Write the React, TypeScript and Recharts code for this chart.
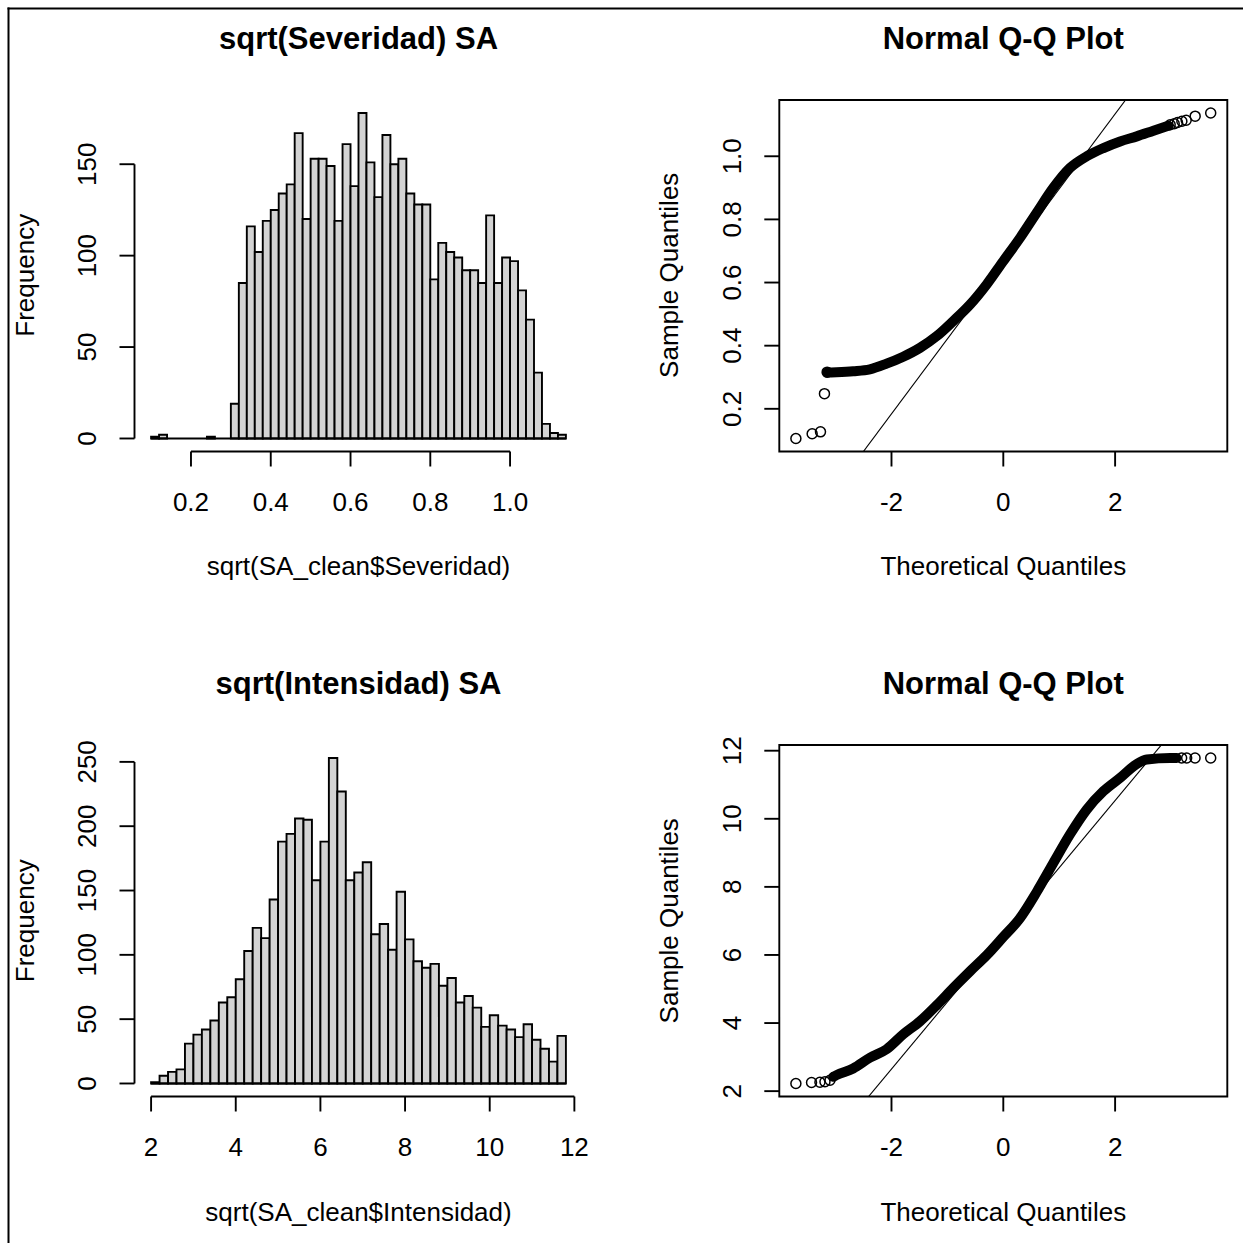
import React from 'react';
import {
  ComposedChart,
  Bar,
  Line,
  Scatter,
  XAxis,
  YAxis,
  ReferenceLine,
  ReferenceArea,
} from 'recharts';

const FONT = '"Liberation Sans", Arial, Helvetica, sans-serif';
const INK = '#000000';
const BAR_FILL = '#d3d3d3';
const LABEL_SIZE = 26;
const TITLE_SIZE = 31;

// ---- sqrt(Severidad): counts of 0.02-wide bins starting at 0.10 ----
const severidadBinStart = 0.1;
const severidadBinWidth = 0.02;
const severidadCounts = [
  1, 2, 0, 0, 0, 0, 0, 1, 0, 0,
  19, 85, 116, 102, 119, 125, 134, 139, 167, 120,
  153, 153, 149, 119, 161, 138, 178, 151, 132, 166,
  150, 153, 134, 128, 128, 87, 107, 102, 99, 92,
  92, 85, 122, 85, 99, 97, 81, 65, 36, 8,
  3, 2,
];
const severidadXTicks = [0.2, 0.4, 0.6, 0.8, 1.0];
const severidadYTicks = [0, 50, 100, 150];

// ---- sqrt(Intensidad): counts of 0.2-wide bins starting at 2.0 ----
const intensidadBinStart = 2;
const intensidadBinWidth = 0.2;
const intensidadCounts = [
  1, 6, 9, 11, 31, 38, 42, 49, 63, 67,
  81, 103, 121, 113, 143, 188, 194, 206, 205, 158,
  188, 253, 227, 158, 164, 172, 116, 124, 104, 149,
  112, 95, 90, 93, 76, 82, 63, 68, 59, 44,
  53, 45, 42, 36, 46, 34, 27, 17, 37,
];
const intensidadXTicks = [2, 4, 6, 8, 10, 12];
const intensidadYTicks = [0, 50, 100, 150, 200, 250];

// ---- Normal Q-Q of sqrt(Severidad) ----
// dense run of sample quantiles (overlapping markers form a solid band)
const sevBandTheo = [
  -3.151, -2.984, -2.685, -2.387, -2.088, -1.79, -1.491, -1.193, -0.895, -0.596, -0.298,
  0, 0.298, 0.597, 0.895, 1.193, 1.492, 1.791, 2.089, 2.388, 2.686, 2.955,
];
const sevBandSample = [
  0.315, 0.316, 0.319, 0.325, 0.343, 0.365, 0.393, 0.43, 0.478, 0.53, 0.594,
  0.668, 0.741, 0.821, 0.9, 0.963, 1.0, 1.026, 1.047, 1.063, 1.081, 1.097,
];
// isolated points in the tails
const sevPointTheo = [-3.71, -3.419, -3.27, -3.199, -3.151, 2.985, 3.057, 3.116, 3.194, 3.271, 3.432, 3.71];
const sevPointSample = [0.106, 0.121, 0.127, 0.248, 0.316, 1.1, 1.103, 1.107, 1.111, 1.114, 1.127, 1.137];
const sevLineIntercept = 0.659;
const sevLineSlope = 0.2375;
const sevQQYTicks = [0.2, 0.4, 0.6, 0.8, 1.0];

// ---- Normal Q-Q of sqrt(Intensidad) ----
const intBandTheo = [
  -3.043, -2.984, -2.685, -2.387, -2.088, -1.79, -1.491, -1.193, -0.895, -0.596, -0.298,
  0, 0.298, 0.597, 0.895, 1.193, 1.492, 1.791, 2.089, 2.388, 2.567, 2.985, 3.1,
];
const intBandSample = [
  2.42, 2.47, 2.665, 2.98, 3.23, 3.67, 4.05, 4.52, 5.03, 5.52, 5.99,
  6.53, 7.08, 7.85, 8.7, 9.54, 10.27, 10.81, 11.2, 11.61, 11.74, 11.785, 11.785,
];
const intPointTheo = [-3.71, -3.43, -3.28, -3.19, -3.1, 3.19, 3.28, 3.43, 3.71];
const intPointSample = [2.225, 2.255, 2.26, 2.275, 2.32, 11.785, 11.785, 11.785, 11.785];
const intLineIntercept = 6.593;
const intLineSlope = 1.972;
const intQQYTicks = [2, 4, 6, 8, 10, 12];

const qqXTicks = [-2, 0, 2];

// ---- page layout (2 x 2 panels) ----
const PAGE = 1243;
const PLOT_W = 448;
const PLOT_H = 351.5;
const X_AXIS_H = 169;
const TOP_MARGIN = 40;
const CHART_W = 610;
const ROW_PLOT_TOP = [99.5, 745];
const COL_PLOT_LEFT = [134.5, 779.3];
const COL_CHART_LEFT = [10, 630];

const TICK_SIZE = 15;
const LINE_W = 1.9;
const TICK_LINE = { stroke: INK, strokeWidth: LINE_W };

// R-style axis range: data range widened by 4% on each side
const widen = (lo: number, hi: number): [number, number] => {
  const pad = (hi - lo) * 0.04;
  return [lo - pad, hi + pad];
};

const fmtOne = (v: number) => v.toFixed(1);
const fmtInt = (v: number) => String(v);

const XTick = (props: any) => {
  const { x, y, payload, fmt } = props;
  return (
    <text x={x} y={y + 44} textAnchor="middle" fontFamily={FONT} fontSize={LABEL_SIZE} fill={INK}>
      {fmt(payload.value)}
    </text>
  );
};

const YTick = (props: any) => {
  const { x, y, payload, fmt } = props;
  const bx = x - 23;
  return (
    <text
      x={bx}
      y={y}
      transform={`rotate(-90 ${bx} ${y})`}
      textAnchor="middle"
      fontFamily={FONT}
      fontSize={LABEL_SIZE}
      fill={INK}
    >
      {fmt(payload.value)}
    </text>
  );
};

const OpenCircle = (props: any) => {
  const { cx, cy } = props;
  if (cx == null || cy == null) return null;
  return <circle cx={cx} cy={cy} r={5} fill="none" stroke={INK} strokeWidth={1.5} />;
};

type Frame = { col: number; row: number };

function frameOf({ col, row }: Frame) {
  const chartLeft = COL_CHART_LEFT[col];
  const plotLeft = COL_PLOT_LEFT[col];
  const yAxisW = plotLeft - chartLeft;
  const rightMargin = CHART_W - yAxisW - PLOT_W;
  const chartTop = ROW_PLOT_TOP[row] - TOP_MARGIN;
  const chartH = TOP_MARGIN + PLOT_H + X_AXIS_H;
  return { chartLeft, chartTop, chartH, yAxisW, rightMargin };
}

type HistProps = Frame & {
  counts: number[];
  binStart: number;
  binWidth: number;
  xTicks: number[];
  yTicks: number[];
  xFmt: (v: number) => string;
};

function Histogram(p: HistProps) {
  const f = frameOf(p);
  const bins = p.counts.map((count, i) => ({
    mid: p.binStart + (i + 0.5) * p.binWidth,
    count,
  }));
  const lo = p.binStart;
  const hi = p.binStart + p.counts.length * p.binWidth;
  const xDomain = widen(lo, hi);
  const yDomain = widen(0, Math.max(...p.counts));
  const barPx = (PLOT_W * p.binWidth) / (xDomain[1] - xDomain[0]) - 0.001;
  const xt = p.xTicks;
  const yt = p.yTicks;
  return (
    <div style={{ position: 'absolute', left: f.chartLeft, top: f.chartTop }}>
      <ComposedChart
        width={CHART_W}
        height={f.chartH}
        data={bins}
        margin={{ top: TOP_MARGIN, right: f.rightMargin, bottom: 0, left: 0 }}
        barCategoryGap={0}
        barGap={0}
      >
        <XAxis
          type="number"
          dataKey="mid"
          domain={xDomain}
          allowDataOverflow
          ticks={xt}
          interval={0}
          height={X_AXIS_H}
          tickSize={TICK_SIZE}
          tickMargin={0}
          axisLine={false}
          tickLine={TICK_LINE}
          tick={<XTick fmt={p.xFmt} />}
        />
        <YAxis
          type="number"
          domain={yDomain}
          allowDataOverflow
          ticks={yt}
          interval={0}
          width={f.yAxisW}
          tickSize={TICK_SIZE}
          tickMargin={0}
          axisLine={false}
          tickLine={TICK_LINE}
          tick={<YTick fmt={fmtInt} />}
        />
        <ReferenceLine
          segment={[{ x: lo, y: 0 }, { x: hi, y: 0 }]}
          stroke={INK}
          strokeWidth={1.9}
          ifOverflow="visible"
        />
        <Bar
          dataKey="count"
          barSize={barPx}
          fill={BAR_FILL}
          stroke={INK}
          strokeWidth={1.9}
          isAnimationActive={false}
        />
        <ReferenceLine
          segment={[{ x: xt[0], y: yDomain[0] }, { x: xt[xt.length - 1], y: yDomain[0] }]}
          stroke={INK}
          strokeWidth={LINE_W}
          ifOverflow="visible"
        />
        <ReferenceLine
          segment={[{ x: xDomain[0], y: yt[0] }, { x: xDomain[0], y: yt[yt.length - 1] }]}
          stroke={INK}
          strokeWidth={LINE_W}
          ifOverflow="visible"
        />
      </ComposedChart>
    </div>
  );
}

type QQProps = Frame & {
  bandTheo: number[];
  bandSample: number[];
  pointTheo: number[];
  pointSample: number[];
  intercept: number;
  slope: number;
  yTicks: number[];
  yFmt: (v: number) => string;
};

function QQPlot(p: QQProps) {
  const f = frameOf(p);
  const band = p.bandTheo.map((x, i) => ({ x, y: p.bandSample[i] }));
  const pts = p.pointTheo.map((x, i) => ({ x, y: p.pointSample[i] }));
  const xs = [...p.bandTheo, ...p.pointTheo];
  const ys = [...p.bandSample, ...p.pointSample];
  const xDomain = widen(Math.min(...xs), Math.max(...xs));
  const yDomain = widen(Math.min(...ys), Math.max(...ys));
  const qqLine = [
    { x: xDomain[0], y: p.intercept + p.slope * xDomain[0] },
    { x: xDomain[1], y: p.intercept + p.slope * xDomain[1] },
  ];
  return (
    <div style={{ position: 'absolute', left: f.chartLeft, top: f.chartTop }}>
      <ComposedChart
        width={CHART_W}
        height={f.chartH}
        margin={{ top: TOP_MARGIN, right: f.rightMargin, bottom: 0, left: 0 }}
      >
        <XAxis
          type="number"
          dataKey="x"
          domain={xDomain}
          allowDataOverflow
          ticks={qqXTicks}
          interval={0}
          height={X_AXIS_H}
          tickSize={TICK_SIZE}
          tickMargin={0}
          axisLine={false}
          tickLine={TICK_LINE}
          tick={<XTick fmt={fmtInt} />}
        />
        <YAxis
          type="number"
          dataKey="y"
          domain={yDomain}
          allowDataOverflow
          ticks={p.yTicks}
          interval={0}
          width={f.yAxisW}
          tickSize={TICK_SIZE}
          tickMargin={0}
          axisLine={false}
          tickLine={TICK_LINE}
          tick={<YTick fmt={p.yFmt} />}
        />
        <ReferenceArea
          x1={xDomain[0]}
          x2={xDomain[1]}
          y1={yDomain[0]}
          y2={yDomain[1]}
          fill="none"
          stroke={INK}
          strokeWidth={LINE_W}
          ifOverflow="visible"
        />
        <ReferenceLine segment={qqLine} stroke={INK} strokeWidth={1.1} ifOverflow="hidden" />
        <Line
          data={band}
          dataKey="y"
          type="monotone"
          stroke={INK}
          strokeWidth={10}
          strokeLinecap="round"
          strokeLinejoin="round"
          dot={false}
          activeDot={false}
          isAnimationActive={false}
        />
        <Scatter data={pts} shape={<OpenCircle />} isAnimationActive={false} />
      </ComposedChart>
    </div>
  );
}

// titles and axis titles, in page coordinates
function PanelText({ col, row, title, xLabel, yLabel }: Frame & { title: string; xLabel: string; yLabel: string }) {
  const left = COL_PLOT_LEFT[col];
  const top = ROW_PLOT_TOP[row];
  const cx = left + PLOT_W / 2;
  const cy = top + PLOT_H / 2;
  const bottom = top + PLOT_H;
  const yx = left - 101;
  return (
    <g fontFamily={FONT} fill={INK}>
      <text x={cx} y={top - 51} textAnchor="middle" fontSize={TITLE_SIZE} fontWeight="bold">
        {title}
      </text>
      <text x={cx} y={bottom + 124} textAnchor="middle" fontSize={LABEL_SIZE}>
        {xLabel}
      </text>
      <text x={yx} y={cy} transform={`rotate(-90 ${yx} ${cy})`} textAnchor="middle" fontSize={LABEL_SIZE}>
        {yLabel}
      </text>
    </g>
  );
}

export default function App() {
  return (
    <div
      style={{
        position: 'fixed',
        left: 0,
        top: 0,
        width: PAGE,
        height: PAGE,
        background: '#ffffff',
        overflow: 'hidden',
      }}
    >
      <svg width={PAGE} height={PAGE} style={{ position: 'absolute', left: 0, top: 0 }}>
        <line x1={7.5} y1={8.5} x2={PAGE} y2={8.5} stroke={INK} strokeWidth={2} />
        <line x1={8.5} y1={7.5} x2={8.5} y2={PAGE} stroke={INK} strokeWidth={2} />
        <PanelText col={0} row={0} title="sqrt(Severidad) SA" xLabel="sqrt(SA_clean$Severidad)" yLabel="Frequency" />
        <PanelText col={1} row={0} title="Normal Q-Q Plot" xLabel="Theoretical Quantiles" yLabel="Sample Quantiles" />
        <PanelText col={0} row={1} title="sqrt(Intensidad) SA" xLabel="sqrt(SA_clean$Intensidad)" yLabel="Frequency" />
        <PanelText col={1} row={1} title="Normal Q-Q Plot" xLabel="Theoretical Quantiles" yLabel="Sample Quantiles" />
      </svg>

      <Histogram
        col={0}
        row={0}
        counts={severidadCounts}
        binStart={severidadBinStart}
        binWidth={severidadBinWidth}
        xTicks={severidadXTicks}
        yTicks={severidadYTicks}
        xFmt={fmtOne}
      />
      <QQPlot
        col={1}
        row={0}
        bandTheo={sevBandTheo}
        bandSample={sevBandSample}
        pointTheo={sevPointTheo}
        pointSample={sevPointSample}
        intercept={sevLineIntercept}
        slope={sevLineSlope}
        yTicks={sevQQYTicks}
        yFmt={fmtOne}
      />
      <Histogram
        col={0}
        row={1}
        counts={intensidadCounts}
        binStart={intensidadBinStart}
        binWidth={intensidadBinWidth}
        xTicks={intensidadXTicks}
        yTicks={intensidadYTicks}
        xFmt={fmtInt}
      />
      <QQPlot
        col={1}
        row={1}
        bandTheo={intBandTheo}
        bandSample={intBandSample}
        pointTheo={intPointTheo}
        pointSample={intPointSample}
        intercept={intLineIntercept}
        slope={intLineSlope}
        yTicks={intQQYTicks}
        yFmt={fmtInt}
      />
    </div>
  );
}
